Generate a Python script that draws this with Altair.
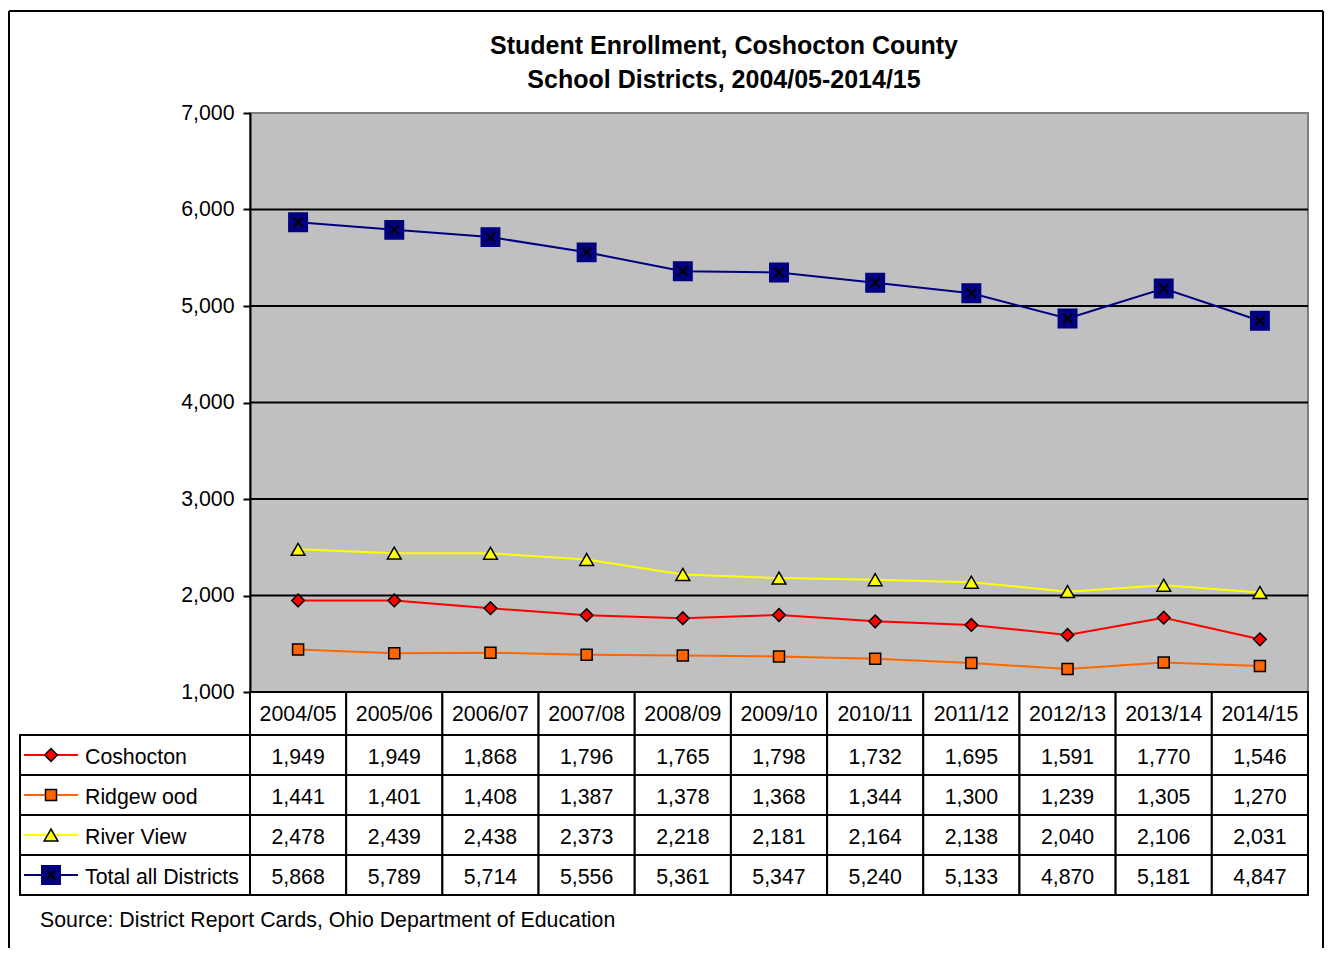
import altair as alt
import pandas as pd

# ---------------- data ----------------
years = ["2004/05", "2005/06", "2006/07", "2007/08", "2008/09", "2009/10",
         "2010/11", "2011/12", "2012/13", "2013/14", "2014/15"]
series = ["Coshocton", "Ridgew ood", "River View", "Total all Districts"]
coshocton = [1949, 1949, 1868, 1796, 1765, 1798, 1732, 1695, 1591, 1770, 1546]
ridgewood = [1441, 1401, 1408, 1387, 1378, 1368, 1344, 1300, 1239, 1305, 1270]
river_view = [2478, 2439, 2438, 2373, 2218, 2181, 2164, 2138, 2040, 2106, 2031]
total = [5868, 5789, 5714, 5556, 5361, 5347, 5240, 5133, 4870, 5181, 4847]
y_ticks = [1000, 2000, 3000, 4000, 5000, 6000, 7000]
title_lines = ["Student Enrollment, Coshocton County",
               "School Districts, 2004/05-2014/15"]
source_text = "Source: District Report Cards, Ohio Department of Education"

values_by_series = [coshocton, ridgewood, river_view, total]
line_colors = ["#FF0000", "#FF6600", "#FFFF00", "#000080"]
marker_shapes = ["diamond", "square", "triangle-up", "square"]
marker_sizes = [160, 121, 190, 340]
marker_strokes = ["black", "black", "black", "#000080"]

records = []
for s, vals in zip(series, values_by_series):
    for y, v in zip(years, vals):
        records.append({"series": s, "year": y, "value": v})
df = pd.DataFrame(records)
df_series = pd.DataFrame({"series": series})
df_years = pd.DataFrame({"year": years})
df_ticks = pd.DataFrame({"value": y_ticks})

FONT = "Liberation Sans"
FS = 21.3
W, H = 1058, 579
HEADER_BOTTOM = H + 43
TABLE_BOTTOM = H + 203

# ---------------- line chart ----------------
x_line = alt.X("year:N", scale=alt.Scale(type="point", domain=years, padding=0.5), axis=None)
y_line = alt.Y("value:Q",
               scale=alt.Scale(domain=[1000, 7000], nice=False, zero=False),
               axis=alt.Axis(values=y_ticks, format=",d", title=None,
                             labelFont=FONT, labelFontSize=FS, labelColor="black",
                             labelPadding=9, tickColor="black", tickSize=7, tickWidth=2,
                             domainColor="black", domainWidth=2, grid=False, zindex=2))

background = alt.Chart(pd.DataFrame({"a": [0]})).mark_rect(
    fill="#C0C0C0", stroke="#808080", strokeWidth=2).encode(
    x=alt.value(0), x2=alt.value(W), y=alt.value(0), y2=alt.value(H))

gridlines = alt.Chart(df_ticks).transform_filter(
    (alt.datum.value > 1000) & (alt.datum.value < 7000)
).mark_rule(color="black", strokeWidth=2).encode(
    x=alt.value(0), x2=alt.value(W), y=y_line)

base = alt.Chart(df).encode(x=x_line, y=y_line)
lines = base.mark_line(strokeWidth=2).encode(
    color=alt.Color("series:N", scale=alt.Scale(domain=series, range=line_colors), legend=None),
    detail="series:N")

line_layers = [background, gridlines, lines]
for s, c, sh, sz, st in zip(series, line_colors, marker_shapes, marker_sizes, marker_strokes):
    line_layers.append(
        base.transform_filter(alt.datum.series == s).mark_point(
            shape=sh, size=sz, filled=True, fill=c, stroke=st, strokeWidth=1.5, opacity=1))
line_layers.append(
    base.transform_filter(alt.datum.series == series[3]).mark_point(
        shape="M-1,-1L1,1M-1,1L1,-1", size=90, filled=False, stroke="black",
        strokeWidth=2, opacity=1))
line_chart = alt.layer(*line_layers)

# ---------------- data table ----------------
x_tab = alt.X("year:N", scale=alt.Scale(type="band", domain=years, paddingInner=0, paddingOuter=0), axis=None)
y_tab = alt.Y("series:N", scale=alt.Scale(type="band", domain=series, range=[HEADER_BOTTOM, TABLE_BOTTOM],
                                         paddingInner=0, paddingOuter=0), axis=None)

cells = alt.Chart(df).mark_rect(fill="white", stroke="black", strokeWidth=2).encode(x=x_tab, y=y_tab)
cell_text = alt.Chart(df).mark_text(font=FONT, fontSize=FS, color="black", baseline="middle", dy=3).encode(
    x=x_tab, y=y_tab, text=alt.Text("value:Q", format=",d"))
header_cells = alt.Chart(df_years).mark_rect(fill="white", stroke="black", strokeWidth=2).encode(
    x=x_tab, y=alt.value(H), y2=alt.value(HEADER_BOTTOM))
header_text = alt.Chart(df_years).mark_text(font=FONT, fontSize=FS, color="black", baseline="middle").encode(
    x=x_tab, y=alt.value(H + 23), text="year:N")

label_cells = alt.Chart(df_series).mark_rect(fill="white", stroke="black", strokeWidth=2).encode(
    x=alt.value(-230), x2=alt.value(0), y=y_tab)
label_text = alt.Chart(df_series).mark_text(font=FONT, fontSize=FS, color="black",
                                            align="left", baseline="middle", dy=3).encode(
    x=alt.value(-165), y=y_tab, text="series:N")
legend_rules = alt.Chart(df_series).mark_rule(strokeWidth=2).encode(
    x=alt.value(-226), x2=alt.value(-172), y=y_tab,
    color=alt.Color("series:N", scale=alt.Scale(domain=series, range=line_colors), legend=None))

table_layers = [cells, header_cells, label_cells, cell_text, header_text, label_text, legend_rules]
for s, c, sh, sz, st in zip(series, line_colors, marker_shapes, marker_sizes, marker_strokes):
    table_layers.append(
        alt.Chart(df_series).transform_filter(alt.datum.series == s).mark_point(
            shape=sh, size=sz, filled=True, fill=c, stroke=st, strokeWidth=1.5, opacity=1).encode(
            x=alt.value(-199), y=y_tab))
table_layers.append(
    alt.Chart(df_series).transform_filter(alt.datum.series == series[3]).mark_point(
        shape="M-1,-1L1,1M-1,1L1,-1", size=90, filled=False, stroke="black",
        strokeWidth=2, opacity=1).encode(x=alt.value(-199), y=y_tab))
table_chart = alt.layer(*table_layers)

# ---------------- decorations ----------------
one = pd.DataFrame({"a": [0]})
FRAME_L, FRAME_R, FRAME_T, FRAME_B = -241, 1073, -102, 835
frame_top = alt.Chart(one).mark_rule(color="black", strokeWidth=2).encode(
    x=alt.value(FRAME_L), x2=alt.value(FRAME_R), y=alt.value(FRAME_T))
frame_left = alt.Chart(one).mark_rule(color="black", strokeWidth=2).encode(
    x=alt.value(FRAME_L), y=alt.value(FRAME_T), y2=alt.value(FRAME_B))
frame_right = alt.Chart(one).mark_rule(color="black", strokeWidth=2).encode(
    x=alt.value(FRAME_R), y=alt.value(FRAME_T), y2=alt.value(FRAME_B))
title1 = alt.Chart(pd.DataFrame({"t": [title_lines[0]]})).mark_text(
    font=FONT, fontSize=25, fontWeight="bold", color="black", baseline="middle").encode(
    x=alt.value(474), y=alt.value(-67), text="t:N")
title2 = alt.Chart(pd.DataFrame({"t": [title_lines[1]]})).mark_text(
    font=FONT, fontSize=25, fontWeight="bold", color="black", baseline="middle").encode(
    x=alt.value(474), y=alt.value(-33), text="t:N")
source = alt.Chart(pd.DataFrame({"t": [source_text]})).mark_text(
    font=FONT, fontSize=FS, color="black", align="left", baseline="middle").encode(
    x=alt.value(-210), y=alt.value(808), text="t:N")
deco = alt.layer(frame_top, frame_left, frame_right, title1, title2, source)

chart = alt.layer(line_chart, table_chart, deco).resolve_scale(
    x="independent", y="independent", color="independent"
).properties(
    width=W, height=H,
    padding={"left": 0, "top": 2, "right": 0, "bottom": 0},
).configure_view(
    stroke=None
).configure(font=FONT)

chart.save("out.html", embed_options={"renderer": "svg", "actions": False})
